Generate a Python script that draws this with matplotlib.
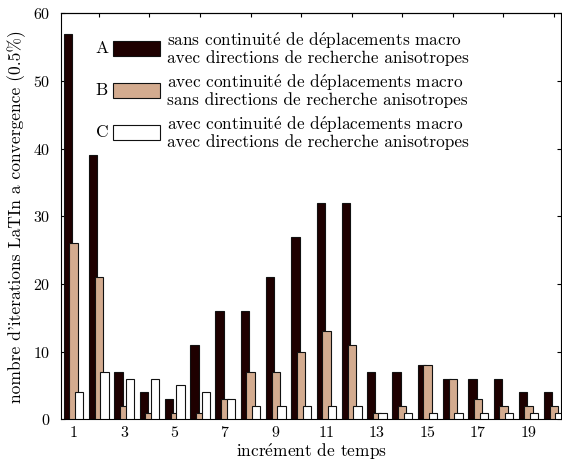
import numpy as np
import matplotlib
matplotlib.use("Agg")
import matplotlib.pyplot as plt
from matplotlib.patches import Rectangle
from matplotlib.ticker import MultipleLocator

plt.rcParams['font.family'] = ['cmr10', 'DejaVu Serif']
plt.rcParams['mathtext.fontset'] = 'cm'
plt.rcParams['axes.formatter.use_mathtext'] = True

# Data
increments = np.arange(1, 21)
serie_a = [57, 39, 7, 4, 3, 11, 16, 16, 21, 27, 32, 32, 7, 7, 8, 6, 6, 6, 4, 4]
serie_b = [26, 21, 2, 1, 1, 1, 3, 7, 7, 10, 13, 11, 1, 2, 8, 6, 3, 2, 2, 2]
serie_c = [4, 7, 6, 6, 5, 4, 3, 2, 2, 2, 2, 2, 1, 1, 1, 1, 1, 1, 1, 1]
letters = ["A", "B", "C"]
labels = [
    "sans continuité de déplacements macro\navec directions de recherche anisotropes",
    "avec continuité de déplacements macro\nsans directions de recherche anisotropes",
    "avec continuité de déplacements macro\navec directions de recherche anisotropes",
]
colors = ["#1e0000", "#d3ab8f", "#ffffff"]


def tex_accents(s):
    # cmr10 has no é glyph, let mathtext build it
    return s.replace("é", r"$\mathrm{\acute{e}}$")


fig = plt.figure(figsize=(5.62, 4.61), dpi=100)
ax = fig.add_axes([61 / 562, 1 - 419.3 / 461, 500 / 562, 406 / 461])

offset = 0.224
width = 0.33
for i, vals in enumerate([serie_a, serie_b, serie_c]):
    ax.bar(increments + (i - 1) * offset, vals, width=width, color=colors[i],
           edgecolor="#111111", linewidth=0.8, zorder=2 + i)

ax.set_xlim(0.5, 20.28)
ax.set_ylim(0, 60)
ax.set_xticks(np.arange(1, 21, 2))
ax.yaxis.set_major_locator(MultipleLocator(10))
ax.tick_params(axis="x", length=0, labelsize=11.5, pad=4)
ax.tick_params(axis="y", direction="in", length=3, labelsize=11.5, pad=8, right=True)

# top ticks at even increments
top = ax.secondary_xaxis("top")
top.set_xticks(np.arange(2, 21, 2))
top.tick_params(direction="in", length=3, labeltop=False)

ax.set_xlabel(tex_accents("incrément de temps"), fontsize=12.5, labelpad=1)
ax.set_ylabel("nombre d'iterations LaTIn a convergence (0.5%)", fontsize=12.6, labelpad=5)

# hand-made legend
for i in range(3):
    yb = 0.8946 - i * 0.103
    ax.add_patch(Rectangle((0.104, yb), 0.094, 0.037, transform=ax.transAxes,
                           facecolor=colors[i], edgecolor="#111111", linewidth=0.8,
                           zorder=10))
    ax.text(0.082, yb + 0.0185, letters[i], transform=ax.transAxes,
            ha="center", va="center", fontsize=12.5, zorder=10)
    ax.text(0.212, yb + 0.0185, tex_accents(labels[i]), transform=ax.transAxes,
            ha="left", va="center", fontsize=12.4, linespacing=0.92, zorder=10)

fig.savefig("out.png", dpi=100)
